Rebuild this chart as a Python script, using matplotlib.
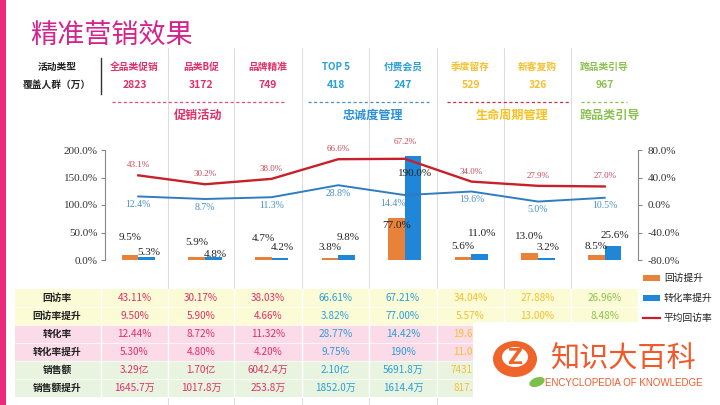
import numpy as np
import matplotlib
matplotlib.use("Agg")
import matplotlib.pyplot as plt
from matplotlib.patches import Rectangle, Ellipse

plt.rcParams['font.family'] = ['Noto Sans CJK SC', 'DejaVu Sans']

# chart data
activities = ['全品类促销', '品类B促', '品牌精准', 'TOP 5', '付费会员', '季度留存', '新客复购', '跨品类引导']
coverage = [2823, 3172, 749, 418, 247, 529, 326, 967]
groups = ['促销活动', '忠诚度管理', '生命周期管理', '跨品类引导']
revisit_rate = [43.11, 30.17, 38.03, 66.61, 67.21, 34.04, 27.88, 26.96]
revisit_lift = [9.50, 5.90, 4.66, 3.82, 77.00, 5.57, 13.00, 8.48]
conv_rate = [12.44, 8.72, 11.32, 28.77, 14.42, 19.60, 5.00, 10.50]
conv_lift = [5.30, 4.80, 4.20, 9.75, 190.0, 11.00, 3.20, 25.60]
sales = ['3.29亿', '1.70亿', '6042.4万', '2.10亿', '5691.8万', '7431.0万', '', '']
sales_lift = ['1645.7万', '1017.8万', '253.8万', '1852.0万', '1614.4万', '817.0万', '', '']
left_ticks = [0, 50, 100, 150, 200]
right_ticks = [-80, -40, 0, 40, 80]

PINK, BLUE, YELLOW, GREEN = '#e0306a', '#2a9fd8', '#f5c02e', '#8cc152'
col_colors = [PINK] * 3 + [BLUE] * 2 + [YELLOW] * 2 + [GREEN]
SERIF = 'Liberation Serif'

fig = plt.figure(figsize=(7.2, 4.05), dpi=100)

# background layer in pixel coordinates
bg = fig.add_axes([0, 0, 1, 1])
bg.set_xlim(0, 720)
bg.set_ylim(405, 0)
bg.axis('off')

bg.add_patch(Rectangle((0, 0), 6, 405, color='#ec2a7c', lw=0))
bg.text(30, 35, '精准营销效果', fontsize=19.5, color='#d4238d', ha='left', va='center')

col_edges = [101, 168, 234, 302, 369, 437, 504, 571, 638]
col_cx = [(a + b) / 2 for a, b in zip(col_edges[:-1], col_edges[1:])]
for xs in col_edges[1:-1]:
    bg.plot([xs, xs], [48, 405], color='#dddddd', lw=0.8, zorder=1)

# header
bg.text(57, 67, '活动类型', fontsize=7, weight='bold', ha='center', va='center', color='#222222')
bg.text(57, 85, '覆盖人群（万）', fontsize=7, weight='bold', ha='center', va='center', color='#222222')
bg.plot([101, 101], [58, 94], color='#333333', lw=1)
for i in range(8):
    bg.text(col_cx[i], 67, activities[i], fontsize=7, weight='bold', ha='center', va='center',
            color=col_colors[i])
    bg.text(col_cx[i], 85, str(coverage[i]), fontsize=7.5, weight='bold', ha='center', va='center',
            color=col_colors[i])

dash_spans = [(112, 285), (308, 429), (447, 569), (581, 627)]
dash_colors = ['#dd4c72', '#4a8fc6', '#c2304c', GREEN]
group_x = [198, 373, 512, 610]
group_colors = [PINK, '#2a8fd6', '#f8c020', GREEN]
for (a, b), dc, gx, g, gc in zip(dash_spans, dash_colors, group_x, groups, group_colors):
    bg.plot([a, b], [102, 102], color=dc, lw=0.9, linestyle=(0, (2.5, 2)))
    bg.text(gx, 115, g, fontsize=8.7, weight='bold', ha='center', va='center', color=gc)

# table
row_labels = ['回访率', '回访率提升', '转化率', '转化率提升', '销售额', '销售额提升']
fmt = lambda v: f'{v:.0f}%' if v >= 100 else f'{v:.2f}%'
rows = [[fmt(v) for v in revisit_rate], [fmt(v) for v in revisit_lift],
        [fmt(v) for v in conv_rate], [fmt(v) for v in conv_lift], sales, sales_lift]
row_bg = ['#fbfbd6', '#fbfbd6', '#fadbe7', '#fadbe7', '#e9f4e0', '#e9f4e0']
top, rh = 289, 18
box_x, box_y = 473, 322   # white logo box covering the lower right of the table
for r in range(6):
    y0 = top + r * rh
    bg.add_patch(Rectangle((15, y0), 638 - 15, rh, color=row_bg[r], lw=0, zorder=2))
    bg.text(57, y0 + rh / 2, row_labels[r], fontsize=7, weight='bold', ha='center', va='center',
            color='#222222', zorder=4)
    for i in range(8):
        if y0 > box_y and col_edges[i] >= box_x:
            continue  # cell fully under the logo box
        bg.text(col_cx[i], y0 + rh / 2, rows[r][i], fontsize=7.2, ha='center', va='center',
                color=col_colors[i], zorder=4)
for xs in col_edges:
    bg.plot([xs, xs], [top, top + 6 * rh], color='white', lw=1, zorder=3)
for r in range(1, 6):
    bg.plot([15, 638], [top + r * rh] * 2, color='white', lw=0.5, zorder=3)

# legend
bg.add_patch(Rectangle((643, 275), 17, 5.5, color='#e8823a', lw=0))
bg.text(664, 278, '回访提升', fontsize=7, va='center', color='#222222')
bg.add_patch(Rectangle((643, 295), 17, 5.5, color='#1f86d8', lw=0))
bg.text(664, 298, '转化率提升', fontsize=7, va='center', color='#222222')
bg.plot([643, 660], [318, 318], color='#c8202a', lw=1.6)
bg.text(664, 318, '平均回访率', fontsize=7, va='center', color='#222222')

# chart
ax = fig.add_axes([105 / 720, (405 - 260) / 405, 533 / 720, 110 / 405])
ax.patch.set_alpha(0)
x = np.arange(8)
w = 0.25
ax.bar(x - w / 2, revisit_lift, w, color='#e8823a', zorder=2)
ax.bar(x + w / 2, conv_lift, w, color='#1f86d8', zorder=2)
ax.set_xlim(-0.5, 7.5)
ax.set_ylim(0, 200)
ax.set_yticks(left_ticks)
ax.set_yticklabels([f'{t:.1f}%' for t in left_ticks], fontfamily=SERIF, fontsize=8, color='#333333')
ax.set_xticks([])
for s in ['top', 'bottom', 'right']:
    ax.spines[s].set_visible(False)
ax.spines['left'].set_color('#888888')
ax.tick_params(axis='y', length=3, color='#888888', pad=2)

# bar label offsets above bar top (pixels)
lift_dy = [17, 14, 19, 10, -8, 10, 16, 9]
conv_dy = [5, 3, 10, 17, -18, 20, 11, 10]
for i in range(8):
    ax.annotate(f'{revisit_lift[i]:.1f}%', (x[i] - w / 2, revisit_lift[i]), xytext=(0, lift_dy[i]),
                textcoords='offset pixels', ha='center', va='center', fontsize=8,
                fontfamily=SERIF, color='#222222', zorder=5)
    ax.annotate(f'{conv_lift[i]:.1f}%', (x[i] + w / 2, conv_lift[i]), xytext=(2, conv_dy[i]),
                textcoords='offset pixels', ha='center', va='center', fontsize=8,
                fontfamily=SERIF, color='#222222', zorder=5)

ax2 = ax.twinx()
ax2.set_ylim(-80, 80)
ax2.plot(x, revisit_rate, color='#c8202a', lw=1.7, zorder=3)
ax2.plot(x, conv_rate, color='#2f7cc0', lw=1.4, zorder=3)
ax2.set_yticks(right_ticks)
ax2.set_yticklabels([f'{t:.1f}%' for t in right_ticks], fontfamily=SERIF, fontsize=8, color='#333333')
for s in ['top', 'bottom', 'left']:
    ax2.spines[s].set_visible(False)
ax2.spines['right'].set_color('#888888')
ax2.tick_params(axis='y', length=3, color='#888888', pad=4)

red_dy = [10, 10, 10, 10, 17, 10, 10, 10]
blue_dx = [0, 0, 0, 0, -12, 0, 0, 0]
for i in range(8):
    ax2.annotate(f'{revisit_rate[i]:.1f}%', (x[i], revisit_rate[i]), xytext=(0, red_dy[i]),
                 textcoords='offset pixels', ha='center', va='center', fontsize=6.5,
                 fontfamily=SERIF, color='#c8485a')
    ax2.annotate(f'{conv_rate[i]:.1f}%', (x[i], conv_rate[i]), xytext=(blue_dx[i], -8),
                 textcoords='offset pixels', ha='center', va='center', fontsize=7,
                 fontfamily=SERIF, color='#4a8fc8')

# watermark box on top
topax = fig.add_axes([0, 0, 1, 1])
topax.set_xlim(0, 720)
topax.set_ylim(405, 0)
topax.axis('off')
topax.add_patch(Rectangle((box_x, box_y), 720 - box_x, 405 - box_y, color='white', lw=0))
topax.add_patch(Ellipse((515, 359), 44, 36, color='#f0642a', lw=0))
topax.add_patch(Ellipse((515, 357), 26, 20, color='white', lw=0))
topax.text(515, 358, 'Z', fontsize=15, weight='bold', color='#f0642a', ha='center', va='center',
           family='DejaVu Sans')
topax.add_patch(Ellipse((537, 382), 16, 9, angle=-20, color='#7cc04a', lw=0))
topax.text(623, 360, '知识大百科', fontsize=21, color='#f05a2a', ha='center', va='center', weight='light')
topax.text(624, 383, 'ENCYCLOPEDIA OF KNOWLEDGE', fontsize=7, color='#f05a2a', ha='center',
           va='center', family='Liberation Sans')

fig.savefig('out.png', dpi=100)
